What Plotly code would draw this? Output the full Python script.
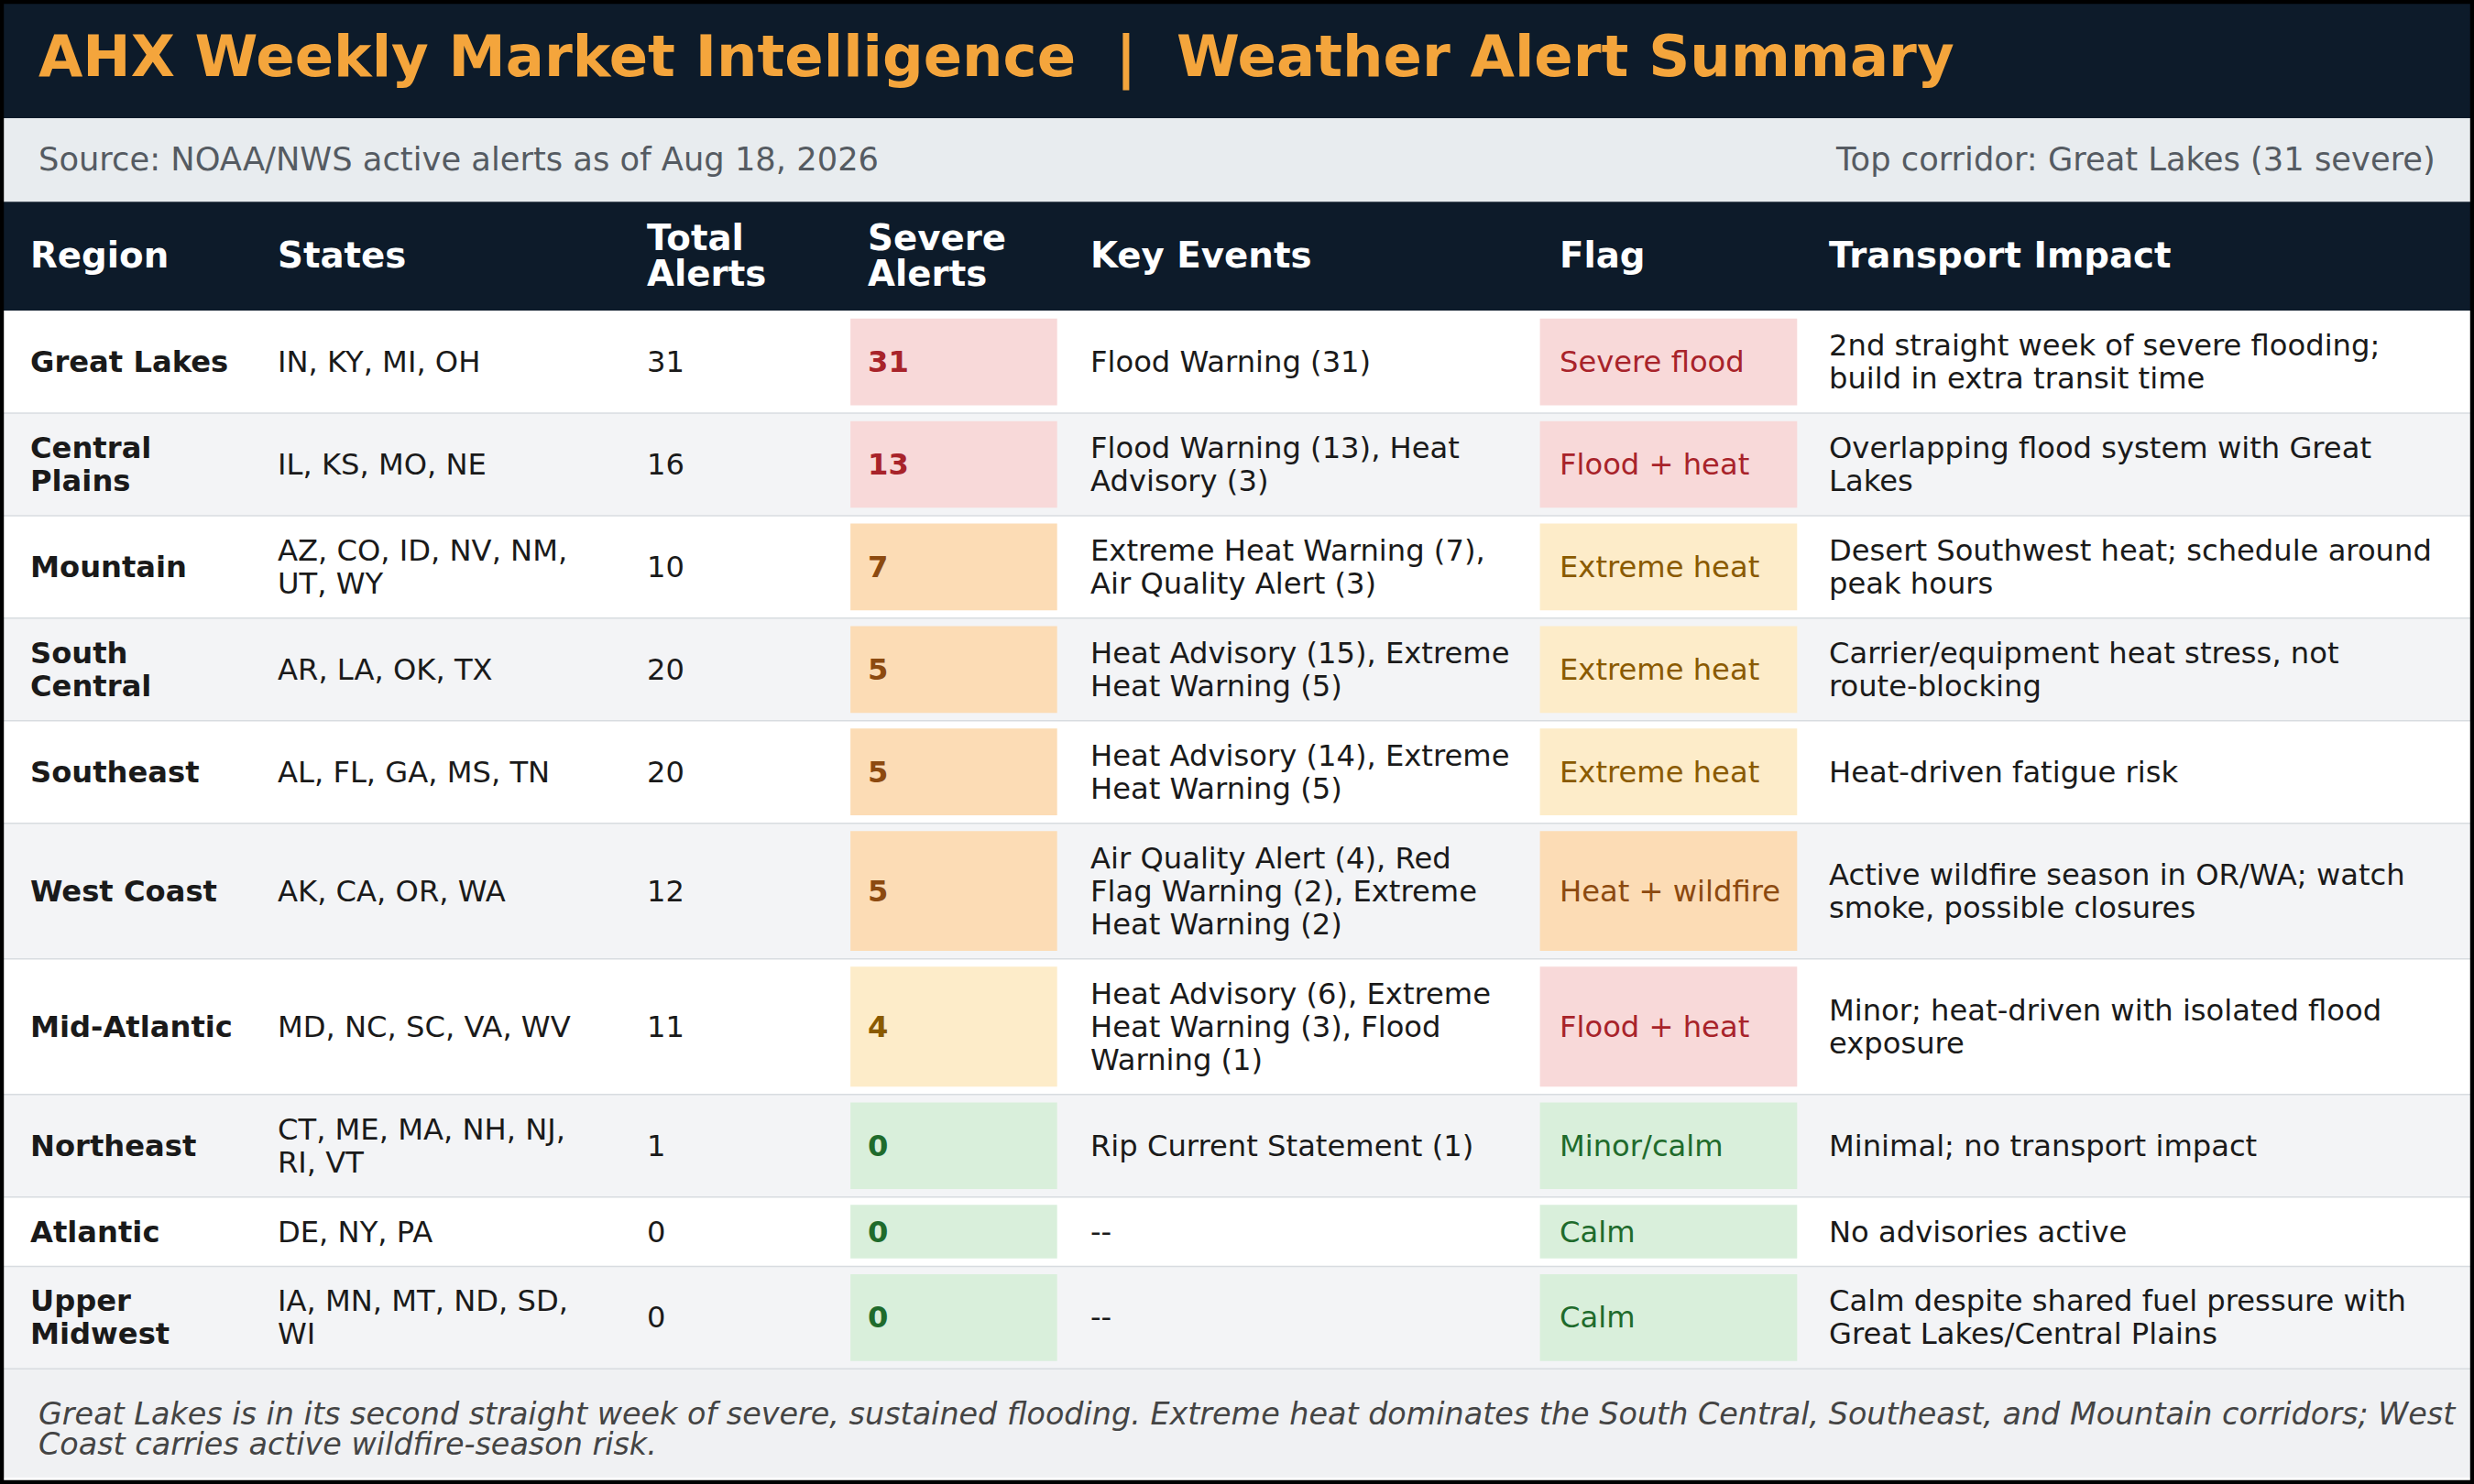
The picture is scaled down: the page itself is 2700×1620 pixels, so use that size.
import plotly.graph_objects as go

regions = ["Great Lakes", "Central<br>Plains", "Mountain", "South<br>Central", "Southeast",
           "West Coast", "Mid-Atlantic", "Northeast", "Atlantic", "Upper<br>Midwest"]
states = ["IN, KY, MI, OH", "IL, KS, MO, NE", "AZ, CO, ID, NV, NM,<br>UT, WY", "AR, LA, OK, TX",
          "AL, FL, GA, MS, TN", "AK, CA, OR, WA", "MD, NC, SC, VA, WV",
          "CT, ME, MA, NH, NJ,<br>RI, VT", "DE, NY, PA", "IA, MN, MT, ND, SD,<br>WI"]
total_alerts = [31, 16, 10, 20, 20, 12, 11, 1, 0, 0]
severe_alerts = [31, 13, 7, 5, 5, 5, 4, 0, 0, 0]
severe_level = ["red", "red", "orange", "orange", "orange", "orange", "yellow", "green", "green", "green"]
key_events = ["Flood Warning (31)", "Flood Warning (13), Heat<br>Advisory (3)",
              "Extreme Heat Warning (7),<br>Air Quality Alert (3)",
              "Heat Advisory (15), Extreme<br>Heat Warning (5)",
              "Heat Advisory (14), Extreme<br>Heat Warning (5)",
              "Air Quality Alert (4), Red<br>Flag Warning (2), Extreme<br>Heat Warning (2)",
              "Heat Advisory (6), Extreme<br>Heat Warning (3), Flood<br>Warning (1)",
              "Rip Current Statement (1)", "--", "--"]
flags = ["Severe flood", "Flood + heat", "Extreme heat", "Extreme heat", "Extreme heat",
         "Heat + wildfire", "Flood + heat", "Minor/calm", "Calm", "Calm"]
flag_level = ["red", "red", "yellow", "yellow", "yellow", "orange", "red", "green", "green", "green"]
impacts = ["2nd straight week of severe flooding;<br>build in extra transit time",
           "Overlapping flood system with Great<br>Lakes",
           "Desert Southwest heat; schedule around<br>peak hours",
           "Carrier/equipment heat stress, not<br>route-blocking",
           "Heat-driven fatigue risk",
           "Active wildfire season in OR/WA; watch<br>smoke, possible closures",
           "Minor; heat-driven with isolated flood<br>exposure",
           "Minimal; no transport impact", "No advisories active",
           "Calm despite shared fuel pressure with<br>Great Lakes/Central Plains"]
row_edges = [197, 262, 327, 392, 457, 522, 608, 694, 759, 803, 868]
headers = ["Region", "States", "Total<br>Alerts", "Severe<br>Alerts", "Key Events", "Flag", "Transport Impact"]
col_x = [18, 175, 409, 549, 690, 987, 1158]

title = "AHX Weekly Market Intelligence  |  Weather Alert Summary"
source = "Source: NOAA/NWS active alerts as of Aug 18, 2026"
corridor = "Top corridor: Great Lakes (31 severe)"
footer = ("Great Lakes is in its second straight week of severe, sustained flooding. Extreme heat dominates the South Central, Southeast, and Mountain corridors; West<br>"
          "Coast carries active wildfire-season risk.")

S = 2700 / 1568
pal = {"red": ("#f8d9d9", "#a8232a"), "orange": ("#fcdcb5", "#8c4a10"),
       "yellow": ("#fdecc9", "#8a5a00"), "green": ("#d9efdb", "#1f6b2c")}
NAVY = "#0d1b2a"
FONT = "DejaVu Sans"

shapes, ann = [], []
def rect(x0, y0, x1, y1, color):
    shapes.append(dict(type="rect", xref="x", yref="y", x0=x0, y0=y0, x1=x1, y1=y1,
                       fillcolor=color, line=dict(width=0), layer="below"))
def text(x, y, t, size, color, bold=False, italic=False, anchor="left", lh=21):
    lines = t.split("<br>")
    n = len(lines)
    for k, ln in enumerate(lines):
        if bold: ln = "<b>" + ln + "</b>"
        if italic: ln = "<i>" + ln + "</i>"
        yy = y + (k - (n - 1) / 2) * lh
        ann.append(dict(x=x, y=yy, xref="x", yref="y", text=ln, showarrow=False, xanchor=anchor,
                        yanchor="middle", align=anchor,
                        font=dict(family=FONT, size=size * S, color=color)))

rect(0, 0, 1568, 941, "#ffffff")
rect(0, 0, 1568, 75, NAVY)
text(23, 36, title, 36.3, "#f4a53c", bold=True)
rect(0, 75, 1568, 128, "#e8ecef")
text(23, 101, source, 20.5, "#555b62")
text(1545, 101, corridor, 20.5, "#555b62", anchor="right")
rect(0, 128, 1568, 197, NAVY)
for h, x in zip(headers, col_x):
    text(x, 162, h, 22.5, "#ffffff", bold=True, lh=23)

for i in range(len(regions)):
    y0, y1 = row_edges[i], row_edges[i + 1]
    ym = (y0 + y1) / 2
    rect(0, y0, 1568, y1, "#ffffff" if i % 2 == 0 else "#f3f4f6")
    shapes.append(dict(type="line", xref="x", yref="y", x0=0, x1=1568, y0=y1, y1=y1,
                       line=dict(color="#d8dce0", width=1.5)))
    bg, fg = pal[severe_level[i]]
    rect(539, y0 + 5, 670, y1 - 5, bg)
    fbg, ffg = pal[flag_level[i]]
    rect(976, y0 + 5, 1139, y1 - 5, fbg)
    text(18, ym, regions[i], 18.7, "#1a1a1a", bold=True)
    text(175, ym, states[i], 18.7, "#1a1a1a")
    text(409, ym, str(total_alerts[i]), 18.7, "#1a1a1a")
    text(549, ym, str(severe_alerts[i]), 18.7, fg, bold=True)
    text(690, ym, key_events[i], 18.7, "#1a1a1a")
    text(987, ym, flags[i], 18.7, ffg)
    text(1158, ym, impacts[i], 18.7, "#1a1a1a")

rect(0, 868, 1568, 937, "#f0f1f3")
text(23, 906, footer, 19.4, "#444444", italic=True, lh=19)
shapes.append(dict(type="rect", xref="x", yref="y", x0=1, y0=1, x1=1567, y1=940,
                   line=dict(color="#000000", width=5), fillcolor="rgba(0,0,0,0)"))

fig = go.Figure(go.Scatter(x=[0, 1568], y=[0, 941], mode="markers", marker=dict(opacity=0),
                           hoverinfo="skip", showlegend=False))
fig.update_layout(width=2700, height=1620, margin=dict(l=0, r=0, t=0, b=0),
                  paper_bgcolor="#ffffff", plot_bgcolor="#ffffff", shapes=shapes, annotations=ann,
                  xaxis=dict(range=[0, 1568], visible=False, fixedrange=True),
                  yaxis=dict(range=[941, 0], visible=False, fixedrange=True))
fig.write_html("out.html", config={"displayModeBar": False})
with open("out.html", encoding="utf-8") as f:
    html = f.read()
html = html.replace("<body>", '<body style="margin:0;padding:0;overflow:hidden">', 1)
with open("out.html", "w", encoding="utf-8") as f:
    f.write(html)
